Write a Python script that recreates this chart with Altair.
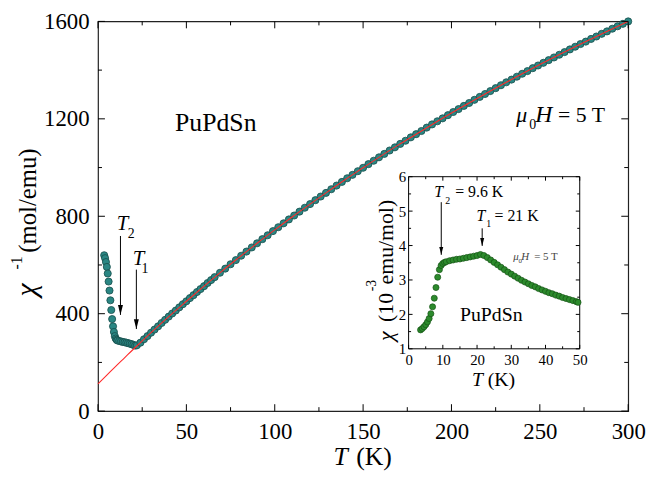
import altair as alt
import pandas as pd

FONT = "Liberation Serif"

# ---------------- data ----------------
# main panel: inverse susceptibility (mol/emu) vs T (K)
T_main = [3.5, 4.0, 4.5, 5.0, 5.5, 6.0, 6.5, 7.0, 7.5, 8.0, 8.5, 9.0, 9.5, 10.0, 10.5,
          11, 12, 13, 14, 15, 16, 17, 18, 19, 20, 21, 22,
          24, 26, 28, 30, 32, 34, 36, 38, 40, 42, 44, 46, 48, 50, 52, 54, 56, 58, 60,
          62, 64, 66,
          69, 72, 75, 78, 81, 84, 87, 90, 93, 96, 99, 102, 105, 108, 111, 114, 117, 120,
          123, 126, 129, 132, 135, 138, 141, 144, 147, 150, 153, 156, 159, 162, 165, 168,
          171, 174, 177, 180, 183, 186, 189, 192, 195, 198, 201, 204, 207, 210, 213, 216,
          219, 222, 225, 228, 231, 234, 237, 240, 243, 246, 249, 252, 255, 258, 261, 264,
          267, 270, 273, 276, 279, 282, 285, 288, 291, 294, 297, 300]
chi_inv_main = [640, 628, 612, 592, 565, 532, 495, 455, 415, 378, 348, 325, 308, 298, 293,
                290, 288, 286, 284, 283, 281, 279, 277, 275, 272, 269, 270,
                281, 295, 308, 322, 335, 348, 362, 375, 388, 401, 413, 426, 439, 451, 464,
                476, 489, 501, 513, 526, 538, 550,
                568, 585, 603, 620, 638, 655, 672, 689, 706, 722, 739, 755, 771, 787, 803,
                819, 835, 850, 866, 881, 896, 911, 926, 941, 956, 970, 985, 999, 1014, 1028,
                1042, 1056, 1070, 1083, 1097, 1110, 1124, 1137, 1150, 1164, 1177, 1190, 1202,
                1215, 1228, 1240, 1253, 1265, 1278, 1290, 1302, 1314, 1326, 1338, 1350, 1361,
                1373, 1385, 1396, 1408, 1419, 1430, 1441, 1452, 1463, 1474, 1485, 1496, 1507,
                1517, 1528, 1538, 1549, 1559, 1570, 1580, 1590, 1600]

# red modified Curie-Weiss fit curve
T_fit = [0, 5, 10, 15, 20, 25, 30, 40, 50, 60, 70, 80, 90, 100, 110, 120, 130, 140, 150,
         160, 170, 180, 190, 200, 210, 220, 230, 240, 250, 260, 270, 280, 290, 300]
chi_inv_fit = [112, 148, 184, 219, 254, 288, 322, 388, 451, 513, 574, 632, 689, 744, 798,
               850, 901, 951, 999, 1047, 1093, 1137, 1181, 1224, 1265, 1306, 1346, 1385,
               1423, 1460, 1496, 1531, 1566, 1600]

# inset: susceptibility (10^-3 emu/mol) vs T (K)
T_inset = [3.5, 4.0, 4.5, 5.0, 5.5, 6.0, 6.5, 7.0, 7.5, 8.0, 8.5, 9.0, 9.5, 10.0, 10.5,
           11, 12, 13, 14, 15, 16, 17, 18, 19, 20, 21, 22, 23, 24, 25, 26, 27, 28, 29,
           30, 31, 32, 33, 34, 35, 36, 37, 38, 39, 40, 41, 42, 43, 44, 45, 46, 47, 48,
           49, 49.5]
chi_inset = [1.55, 1.59, 1.64, 1.70, 1.78, 1.88, 2.02, 2.22, 2.47, 2.78, 3.08, 3.30, 3.42,
             3.48, 3.51, 3.53, 3.56, 3.58, 3.60, 3.61, 3.63, 3.65, 3.67, 3.69, 3.71, 3.74,
             3.71, 3.65, 3.58, 3.51, 3.44, 3.37, 3.30, 3.23, 3.17, 3.11, 3.05, 2.99, 2.94,
             2.89, 2.84, 2.80, 2.75, 2.71, 2.67, 2.63, 2.60, 2.56, 2.53, 2.49, 2.46, 2.43,
             2.40, 2.37, 2.35]

x_ticks_main = [0, 50, 100, 150, 200, 250, 300]
x_minor_main = [25, 75, 125, 175, 225, 275]
y_ticks_main = [0, 400, 800, 1200, 1600]
y_minor_main = [200, 600, 1000, 1400]
x_ticks_inset = [0, 10, 20, 30, 40, 50]
x_minor_inset = [5, 15, 25, 35, 45]
y_ticks_inset = [1, 2, 3, 4, 5, 6]
y_minor_inset = [1.5, 2.5, 3.5, 4.5, 5.5]

# ---------------- layout ----------------
W, H = 536, 394
XI_RANGE = [314, 487]
YI_RANGE = [331, 157]
pxm_x = W / 300.0
pxm_y = H / 1600.0
pxi_x = (XI_RANGE[1] - XI_RANGE[0]) / 50.0
pxi_y = (YI_RANGE[0] - YI_RANGE[1]) / 5.0

TICK_FONT_MAIN = 23
TICK_FONT_INSET = 15


def mk_axis(values, size, pad, orient=None, offset=None):
    kw = dict(values=values, format="d", ticks=False, tickSize=0, domain=False, grid=False,
              title=None, labelFontSize=size, labelFont=FONT, labelColor="black",
              labelPadding=pad, labelFlush=False)
    if orient:
        kw["orient"] = orient
    if offset is not None:
        kw["offset"] = offset
    return alt.Axis(**kw)


G = {
    "main": dict(
        sx=alt.Scale(domain=[0, 300], nice=False, zero=False),
        sy=alt.Scale(domain=[0, 1600], nice=False, zero=False),
        ax=mk_axis(x_ticks_main, TICK_FONT_MAIN, 10, orient="bottom"),
        ay=mk_axis(y_ticks_main, TICK_FONT_MAIN, 9, orient="left")),
    "inset": dict(
        sx=alt.Scale(domain=[0, 50], range=XI_RANGE, nice=False, zero=False),
        sy=alt.Scale(domain=[1, 6], range=YI_RANGE, nice=False, zero=False),
        ax=mk_axis(x_ticks_inset, TICK_FONT_INSET, 4, orient="bottom",
                   offset=-(H - YI_RANGE[0])),
        ay=mk_axis(y_ticks_inset, TICK_FONT_INSET, 3, orient="left",
                   offset=-XI_RANGE[0])),
}


def X(field, g):
    return alt.X(field, scale=G[g]["sx"], axis=G[g]["ax"])


def Y(field, g):
    return alt.Y(field, scale=G[g]["sy"], axis=G[g]["ay"])


TEAL, TEAL_EDGE = "#2a8683", "#154c4a"
GREEN, GREEN_EDGE = "#2c8a2c", "#145214"
ARROW_PATH = "M-0.5,-2L0.5,-2L0,0Z"


def text(x, y, s, g, size, italic=False, angle=0, color="black"):
    d = pd.DataFrame({"x": [x], "y": [y], "t": [s]})
    kw = dict(align="left", baseline="alphabetic", fontSize=size, font=FONT, color=color)
    if italic:
        kw["fontStyle"] = "italic"
    if angle:
        kw["angle"] = angle
    return alt.Chart(d).mark_text(**kw).encode(x=X("x:Q", g), y=Y("y:Q", g), text="t:N")


def xticks(vals, y0, dy, g):
    d = pd.DataFrame({"x": vals, "y": [y0] * len(vals), "y2": [y0 + dy] * len(vals)})
    return alt.Chart(d).mark_rule(color="black", strokeWidth=1).encode(
        x=X("x:Q", g), y=Y("y:Q", g), y2="y2:Q")


def yticks(vals, x0, dx, g):
    d = pd.DataFrame({"y": vals, "x": [x0] * len(vals), "x2": [x0 + dx] * len(vals)})
    return alt.Chart(d).mark_rule(color="black", strokeWidth=1).encode(
        y=Y("y:Q", g), x=X("x:Q", g), x2="x2:Q")


def arrow(x, y_from, y_tip, g, head):
    d = pd.DataFrame({"x": [x], "y": [y_from], "y2": [y_tip]})
    line = alt.Chart(d).mark_rule(color="black", strokeWidth=1).encode(
        x=X("x:Q", g), y=Y("y:Q", g), y2="y2:Q")
    tip = alt.Chart(d).mark_point(shape=ARROW_PATH, filled=True, color="black",
                                  size=head, opacity=1).encode(
        x=X("x:Q", g), y=Y("y2:Q", g))
    return [line, tip]


# ---------------- main panel ----------------
main_df = pd.DataFrame({"T": T_main, "v": chi_inv_main})
fit_df = pd.DataFrame({"T": T_fit, "v": chi_inv_fit})

main_points = alt.Chart(main_df).mark_circle(
    size=52, color=TEAL, stroke=TEAL_EDGE, strokeWidth=0.8, opacity=1).encode(
    x=X("T:Q", "main"), y=Y("v:Q", "main"))

fit_line = alt.Chart(fit_df).mark_line(color="#ff2a2a", strokeWidth=1.1,
                                       interpolate="monotone").encode(
    x=X("T:Q", "main"), y=Y("v:Q", "main"))

mj_x, mn_x = 7 / pxm_y, 4 / pxm_y
mj_y, mn_y = 7 / pxm_x, 4 / pxm_x
main_layers = [
    main_points, fit_line,
    xticks(x_ticks_main, 0, mj_x, "main"), xticks(x_minor_main, 0, mn_x, "main"),
    xticks(x_ticks_main, 1600, -mj_x, "main"), xticks(x_minor_main, 1600, -mn_x, "main"),
    yticks(y_ticks_main, 0, mj_y, "main"), yticks(y_minor_main, 0, mn_y, "main"),
    yticks(y_ticks_main, 300, -mj_y, "main"), yticks(y_minor_main, 300, -mn_y, "main"),
]
main_layers += arrow(12.7, 719, 395, "main", 100)
main_layers += arrow(21.7, 581, 337, "main", 100)
main_layers += [
    text(10.6, 743, "T", "main", 21, italic=True),
    text(16.8, 711, "2", "main", 14),
    text(19.6, 601, "T", "main", 21, italic=True),
    text(24.6, 569, "1", "main", 14),
    text(43.6, 1149, "PuPdSn", "main", 26),
    text(236.7, 1187, "μ", "main", 22, italic=True),
    text(244.0, 1157, "0", "main", 14),
    text(247.4, 1187, "H", "main", 24, italic=True),
    text(260.3, 1187, "= 5 T", "main", 22),
    # x axis title
    text(133.2, -223, "T", "main", 26, italic=True),
    text(146.1, -223, "(K)", "main", 26),
    # y axis title (rotated)
    text(-35.0, 471, "χ", "main", 30, italic=True, angle=270),
    text(-43.1, 581, "-1", "main", 16, angle=270),
    text(-35.0, 650, "(mol/emu)", "main", 25, angle=270),
]
main = alt.layer(*main_layers)

# ---------------- inset ----------------
ins_df = pd.DataFrame({"T": T_inset, "c": chi_inset})
frame_df = pd.DataFrame({"x": [0], "x2": [50], "y": [1], "y2": [6]})

inset_frame = alt.Chart(frame_df).mark_rect(fillOpacity=0, stroke="black",
                                            strokeWidth=1).encode(
    x=X("x:Q", "inset"), x2="x2:Q", y=Y("y:Q", "inset"), y2="y2:Q")

inset_points = alt.Chart(ins_df).mark_circle(
    size=38, color=GREEN, stroke=GREEN_EDGE, strokeWidth=0.7, opacity=1).encode(
    x=X("T:Q", "inset"), y=Y("c:Q", "inset"))

ij_x, in_x = 4 / pxi_y, 2.5 / pxi_y
ij_y, in_y = 4 / pxi_x, 2.5 / pxi_x
inset_layers = [
    inset_frame, inset_points,
    xticks(x_ticks_inset, 1, ij_x, "inset"), xticks(x_minor_inset, 1, in_x, "inset"),
    xticks(x_ticks_inset, 6, -ij_x, "inset"), xticks(x_minor_inset, 6, -in_x, "inset"),
    yticks(y_ticks_inset, 0, ij_y, "inset"), yticks(y_minor_inset, 0, in_y, "inset"),
    yticks(y_ticks_inset, 50, -ij_y, "inset"), yticks(y_minor_inset, 50, -in_y, "inset"),
]
inset_layers += arrow(9.54, 5.26, 3.73, "inset", 64)
inset_layers += arrow(21.5, 4.50, 3.99, "inset", 64)
inset_layers += [
    text(7.5, 5.40, "T", "inset", 16, italic=True),
    text(10.7, 5.20, "2", "inset", 10),
    text(13.6, 5.40, "= 9.6 K", "inset", 16),
    text(19.85, 4.71, "T", "inset", 16, italic=True),
    text(22.7, 4.54, "1", "inset", 10),
    text(25.1, 4.71, "= 21 K", "inset", 16),
    text(30.6, 3.59, "μ", "inset", 11, italic=True, color="#444444"),
    text(32.1, 3.50, "0", "inset", 7, color="#444444"),
    text(32.9, 3.59, "H", "inset", 11, italic=True, color="#444444"),
    text(36.7, 3.59, "= 5 T", "inset", 11, color="#444444"),
    text(15.0, 1.80, "PuPdSn", "inset", 20),
    # inset x title
    text(18.5, -0.09, "T", "inset", 20, italic=True),
    text(23.1, -0.09, "(K)", "inset", 20),
    # inset y title (rotated)
    text(-4.6, 1.23, "χ", "inset", 22, italic=True, angle=270),
    text(-4.6, 1.78, "(10", "inset", 22, angle=270),
    text(-9.5, 2.67, "-3", "inset", 14, angle=270),
    text(-4.6, 2.87, "emu/mol)", "inset", 22, angle=270),
]
inset = alt.layer(*inset_layers)

chart = alt.layer(main, inset).resolve_scale(x="independent", y="independent").properties(
    width=W, height=H,
    autosize=alt.AutoSizeParams(type="none"),
    padding={"left": 91, "top": 11, "right": 18, "bottom": 60},
    background="white",
).configure(font=FONT).configure_axis(labelFont=FONT, labelColor="black").configure_view(
    stroke="#222222", strokeWidth=1.2)

chart.save("out.html", embed_options={"renderer": "svg", "actions": False})
